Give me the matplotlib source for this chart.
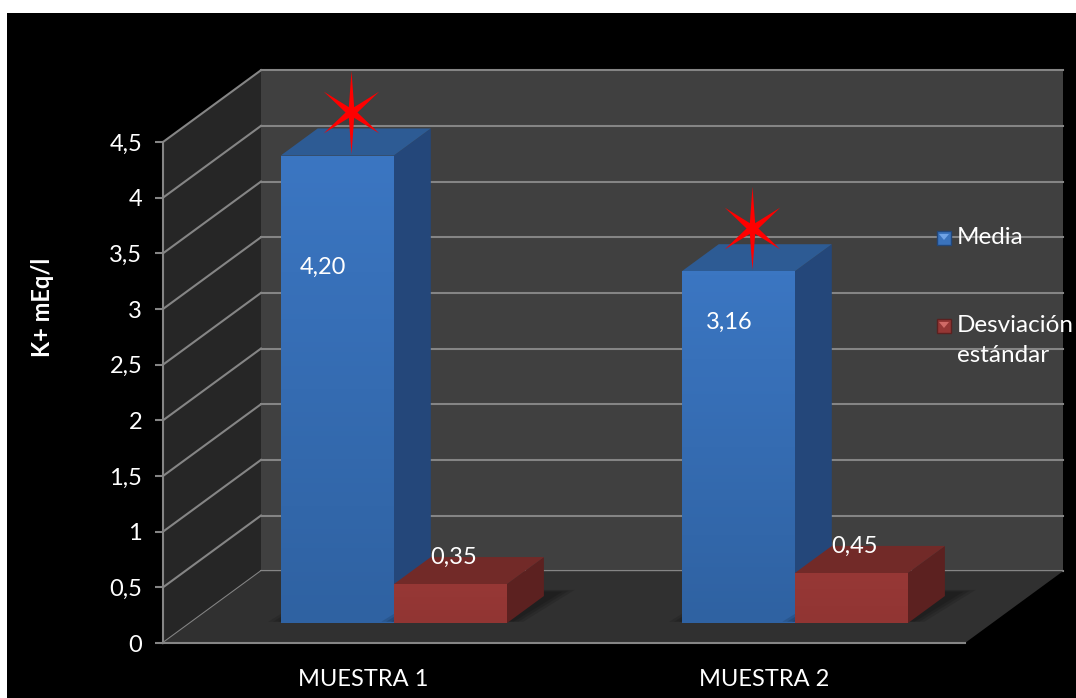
import numpy as np
import matplotlib.pyplot as plt
from matplotlib.patches import Polygon, Rectangle
from matplotlib.path import Path
from matplotlib.colors import LinearSegmentedColormap

# data
categories = ["MUESTRA 1", "MUESTRA 2"]
media = [4.20, 3.16]
desviacion = [0.35, 0.45]
media_labels = ["4,20", "3,16"]
desv_labels = ["0,35", "0,45"]
series_names = ["Media", "Desviación\nestándar"]
y_ticks = [0, 0.5, 1, 1.5, 2, 2.5, 3, 3.5, 4, 4.5]
y_ticklabels = ["0", "0,5", "1", "1,5", "2", "2,5", "3", "3,5", "4", "4,5"]
y_label = "K+ mEq/l"

# layout of the fake 3D box
W, H = 1076, 698
DX, DY = 0.2444, 0.645      # full depth offset (category units, value units)
BAR_D0, BAR_DD = 0.276, 0.378
BAR_W = 0.282
media_label_y = [3.2, 2.7]  # where Excel put the inside labels

plt.rcParams['font.family'] = ['Lato', 'DejaVu Sans']

fig = plt.figure(figsize=(W / 100, H / 100), dpi=100, facecolor='white')
# black chart area, white strip at top/left
fig.add_artist(Rectangle((7 / W, 0), 1 - 7 / W, 1 - 13 / H, transform=fig.transFigure,
                         facecolor='black', edgecolor='none', zorder=0))

ax = fig.add_axes([163 / W, 55 / H, 802 / W, 501 / H])
ax.set_facecolor('none')


def P(x, y, d):
    return (x + d * DX, y + d * DY)


def poly(pts, color, z, **kw):
    p = Polygon(pts, closed=True, facecolor=color, edgecolor='none', zorder=z, clip_on=False, **kw)
    ax.add_patch(p)
    return p


grid_c = '#858585'
# walls and floor
poly([P(0, 0, 0), P(0, 4.5, 0), P(0, 4.5, 1), P(0, 0, 1)], '#262626', 1)
poly([P(0, 0, 1), P(2, 0, 1), P(2, 4.5, 1), P(0, 4.5, 1)], '#404040', 1)
poly([P(0, 0, 0), P(2, 0, 0), P(2, 0, 1), P(0, 0, 1)], '#303030', 2)
for v in y_ticks:
    a, b = P(0, v, 0), P(0, v, 1)
    ax.plot([a[0], b[0]], [a[1], b[1]], color=grid_c, lw=1.5, zorder=1.5, clip_on=False)
    c = P(2, v, 1)
    ax.plot([b[0], c[0]], [b[1], c[1]], color=grid_c, lw=1.5, zorder=1.5, clip_on=False)
ax.plot([0, 2], [0, 0], color=grid_c, lw=1.5, zorder=2.5, clip_on=False)


def bar3d(x0, h, front_top, front_bot, top_c, side_c, z):
    x1 = x0 + BAR_W
    d0, d1 = BAR_D0, BAR_D0 + BAR_DD
    # soft shadow on floor
    for k, al in enumerate([0.12, 0.12, 0.12]):
        e = 0.012 * (3 - k)
        poly([P(x0 - e, 0, d0 + 0.02), P(x1 + e, 0, d0 + 0.02),
              P(x1 + e + 0.02, 0, d1 + 0.05 + e), P(x0 - e + 0.02, 0, d1 + 0.05 + e)],
             'black', z - 0.5, alpha=al)
    poly([P(x1, 0, d0), P(x1, 0, d1), P(x1, h, d1), P(x1, h, d0)], side_c, z)
    poly([P(x0, h, d0), P(x1, h, d0), P(x1, h, d1), P(x0, h, d1)], top_c, z)
    fp = poly([P(x0, 0, d0), P(x1, 0, d0), P(x1, h, d0), P(x0, h, d0)], front_bot, z + 0.1)
    a, b = P(x0, 0, d0), P(x1, h, d0)
    grad = np.linspace(0, 1, 100)[:, None]
    cm = LinearSegmentedColormap.from_list('g', [front_bot, front_top])
    im = ax.imshow(grad, extent=[a[0], b[0], a[1], b[1]], origin='lower', cmap=cm,
                   aspect='auto', zorder=z + 0.2)
    im.set_clip_path(fp)


# six pointed star used by the chart author
ang_out = np.deg2rad([90, 37, -37, -90, -143, -217])
r_out = [42, 35, 35, 42, 35, 35]
verts = []
for k in range(6):
    verts.append((r_out[k] * np.cos(ang_out[k]), r_out[k] * np.sin(ang_out[k])))
    nxt = ang_out[k + 1] if k < 5 else np.deg2rad(-270)
    a_in = (ang_out[k] + nxt) / 2
    verts.append((6 * np.cos(a_in), 6 * np.sin(a_in)))
verts.append(verts[0])
star = Path(verts, closed=True)

centers = np.arange(len(categories)) + 0.5
for i, c in enumerate(centers):
    xb = c - BAR_W + 0.008
    xr = xb + BAR_W
    bar3d(xb, media[i], '#3b76c2', '#2f62a2', '#2d5b94', '#24477a', 3 + i * 2)
    bar3d(xr, desviacion[i], '#973836', '#913533', '#722a28', '#5c2120', 4 + i * 2)
    # value labels
    lx, ly = P(xb + BAR_W / 2 - 0.035 + 0.012 * i, media_label_y[i], BAR_D0)
    ax.text(lx, ly, media_labels[i], color='white', fontsize=17, ha='center', va='center',
            zorder=20)
    lx, _ = P(xr + BAR_W / 2 + 0.008, 0, BAR_D0)
    _, ly = P(0, desviacion[i] - 0.005, BAR_D0 + BAR_DD)
    ax.text(lx, ly, desv_labels[i], color='white', fontsize=17, ha='center', va='center',
            zorder=20)
    # red star marking the mean
    sx, sy = P(xb + BAR_W / 2 + 0.035, media[i] + 0.39, BAR_D0)
    ax.plot([sx], [sy], marker=star, ms=60, color='#ff0000', mew=0, zorder=30, clip_on=False)

ax.set_xlim(0, 2)
ax.set_ylim(0, 4.5)

# axes
for s in ['top', 'right', 'bottom']:
    ax.spines[s].set_visible(False)
ax.spines['left'].set_color(grid_c)
ax.spines['left'].set_linewidth(1.5)
ax.spines['left'].set_zorder(2.6)
ax.set_yticks(y_ticks)
ax.set_yticklabels(y_ticklabels)
ax.set_xticks(centers)
ax.set_xticklabels(categories)
ax.tick_params(axis='y', direction='out', length=6, width=1.5, color=grid_c,
               labelcolor='white', labelsize=17, pad=9)
ax.tick_params(axis='x', length=0, labelcolor='white', labelsize=17, pad=19)

fig.text(43 / W, 1 - 307 / H, y_label, rotation=90, color='white', fontsize=17,
         fontweight='bold', ha='center', va='center')

# legend
leg_cols = [('#3a73bd', '#6fa3e6', '#22477a'), ('#953735', '#d06a66', '#5c2120')]
leg_y = [238, 326]
for (fc, lc, ec), yy, name in zip(leg_cols, leg_y, series_names):
    x0, s = 937, 14
    fig.add_artist(Rectangle((x0 / W, 1 - (yy + s / 2) / H), s / W, s / H, transform=fig.transFigure,
                             facecolor=fc, edgecolor=ec, lw=1, zorder=40))
    tri = [((x0 + 2) / W, 1 - (yy - 4) / H), ((x0 + s - 2) / W, 1 - (yy - 4) / H),
           ((x0 + s / 2) / W, 1 - (yy + 2) / H)]
    fig.add_artist(Polygon(tri, closed=True, transform=fig.transFigure, facecolor=lc,
                           edgecolor='none', zorder=41))
    lines = name.split('\n')
    for j, line in enumerate(lines):
        fig.text(957 / W, 1 - (yy + 30 * j) / H, line, color='white', fontsize=17.5,
                 ha='left', va='center')

fig.savefig('out.png', dpi=100, facecolor='white')
